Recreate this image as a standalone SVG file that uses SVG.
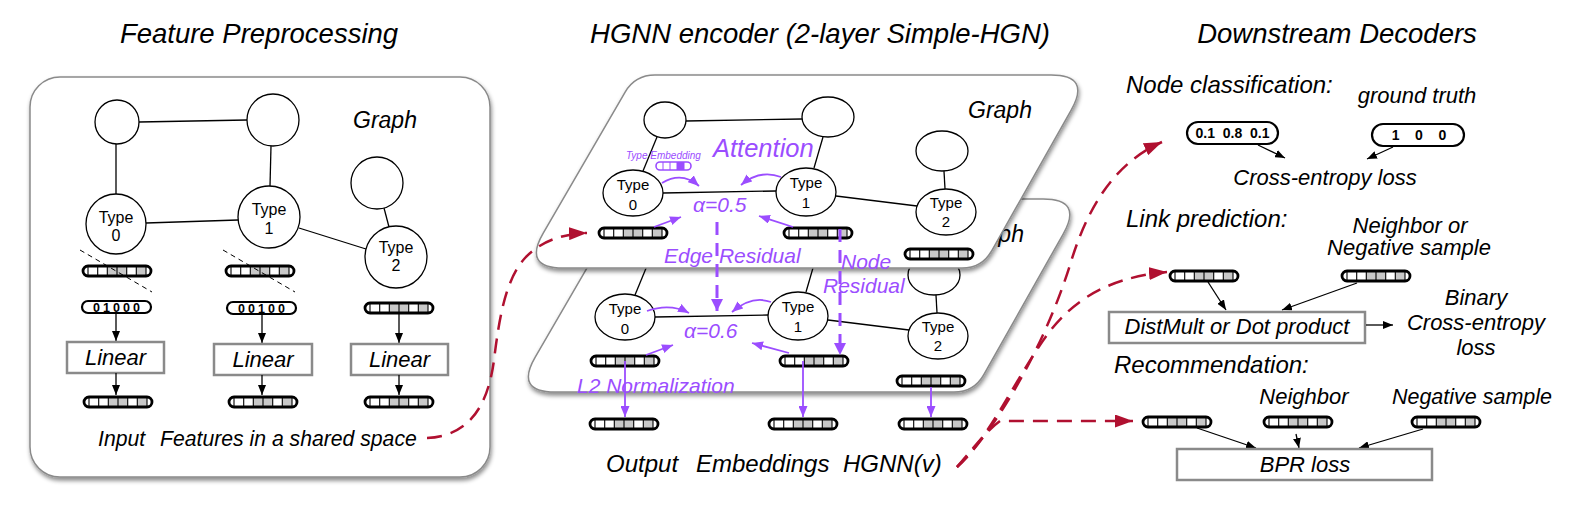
<svg xmlns="http://www.w3.org/2000/svg" xmlns:xlink="http://www.w3.org/1999/xlink" width="1592" height="516" viewBox="0 0 1592 516">
<style>
text{font-family:"Liberation Sans",Arial,sans-serif;}
.it{font-style:italic;fill:#000;}
.ttl{font-size:27.5px;font-style:italic;text-anchor:middle;}
.hd{font-size:24px;font-style:italic;}
.lb{font-size:22px;font-style:italic;}
.c{text-anchor:middle;}
.nt{font-size:16px;text-anchor:middle;}
.nt2{font-size:15px;text-anchor:middle;}
.pu{fill:#9b4dff;font-style:italic;font-size:21px;}
.node{fill:#fff;stroke:#000;stroke-width:1.3;}
.edge{stroke:#000;stroke-width:1.3;fill:none;}
.gbox{fill:#fff;stroke:#8a8a8a;stroke-width:2.5;}
.arr{stroke:#000;stroke-width:1.3;fill:none;marker-end:url(#aB);}
.parr{stroke:#9b4dff;stroke-width:1.8;fill:none;marker-end:url(#aP);}
.pdash{stroke:#9b4dff;stroke-width:3;fill:none;stroke-dasharray:13 8;marker-end:url(#aP2);}
.red{stroke:#b01030;stroke-width:2.5;fill:none;stroke-dasharray:15 9;}
.oh{fill:#fff;stroke:#000;stroke-width:2.2;}
.ohT{font-size:12.5px;font-weight:bold;text-anchor:middle;letter-spacing:3px;}
.pb{font-size:14px;font-weight:bold;text-anchor:middle;}
</style>
<defs>
<filter id="sh" x="-5%" y="-5%" width="112%" height="115%">
<feDropShadow dx="1" dy="3" stdDeviation="2" flood-color="#000" flood-opacity="0.45"/>
</filter>
<marker id="aB" markerUnits="userSpaceOnUse" viewBox="0 0 10 8" refX="10" refY="4" markerWidth="10" markerHeight="8" orient="auto"><path d="M0,0L10,4L0,8z" fill="#000"/></marker>
<marker id="aP" markerUnits="userSpaceOnUse" viewBox="0 0 11 9" refX="11" refY="4.5" markerWidth="11" markerHeight="9" orient="auto"><path d="M0,0L11,4.5L0,9z" fill="#9b4dff"/></marker>
<marker id="aP2" markerUnits="userSpaceOnUse" viewBox="0 0 12 12" refX="12" refY="6" markerWidth="12" markerHeight="12" orient="auto"><path d="M0,0L12,6L0,12z" fill="#9b4dff"/></marker>
<marker id="aR" markerUnits="userSpaceOnUse" viewBox="0 0 18 13" refX="18" refY="6.5" markerWidth="18" markerHeight="13" orient="auto"><path d="M0,0L18,6.5L0,13z" fill="#b01030"/></marker>
<g id="emb">
<rect x="1" y="1" width="68" height="10" rx="5" fill="#fff"/>
<rect x="25.3" y="1" width="19.4" height="10" fill="#c8c8c8"/>
<rect x="54.3" y="1" width="9.7" height="10" fill="#c8c8c8"/>
<path d="M6,1V11M15.7,1V11M25.3,1V11M35,1V11M44.7,1V11M54.3,1V11M64,1V11" stroke="#000" stroke-width="1.1"/>
<rect x="1" y="1" width="68" height="10" rx="5" fill="none" stroke="#000" stroke-width="2.8"/>
</g>
</defs>
<rect width="1592" height="516" fill="#fff"/>

<!-- Titles -->
<text class="ttl" x="259" y="43">Feature Preprocessing</text>
<text class="ttl" x="820" y="43">HGNN encoder (2-layer Simple-HGN)</text>
<text class="ttl" x="1337" y="43">Downstream Decoders</text>

<!-- ============ LEFT PANEL ============ -->
<g id="panel-preprocessing">
<rect x="30" y="77" width="460" height="400" rx="30" fill="#fff" stroke="#8a8a8a" stroke-width="1.5" filter="url(#sh)"/>
<text class="it" x="353" y="128" style="font-size:23px">Graph</text>
<g id="left-edges">
<line class="edge" x1="139" y1="122" x2="247" y2="120"/>
<line class="edge" x1="116" y1="144" x2="116" y2="194"/>
<line class="edge" x1="271" y1="146" x2="270" y2="186"/>
<line class="edge" x1="146" y1="223" x2="238" y2="220"/>
<line class="edge" x1="299" y1="228" x2="366" y2="249"/>
<line class="edge" x1="384" y1="208" x2="389" y2="227"/>
</g>
<g id="L-nA"><circle class="node" cx="117" cy="122" r="22"/></g>
<g id="L-nB"><circle class="node" cx="273" cy="120" r="26"/></g>
<g id="L-nC"><circle class="node" cx="377" cy="183" r="26"/></g>
<g id="L-type0"><circle class="node" cx="116" cy="224" r="30"/><text class="nt" x="116" y="223">Type</text><text class="nt" x="116" y="241">0</text></g>
<g id="L-type1"><circle class="node" cx="269" cy="217" r="31"/><text class="nt" x="269" y="215">Type</text><text class="nt" x="269" y="234">1</text></g>
<g id="L-type2"><circle class="node" cx="396" cy="257" r="31"/><text class="nt" x="396" y="253">Type</text><text class="nt" x="396" y="271">2</text></g>

<g id="L-col0">
<use href="#emb" x="82" y="265"/>
<line x1="80" y1="250" x2="152" y2="292" stroke="#000" stroke-width="1" stroke-dasharray="5 4"/>
<rect class="oh" x="82" y="301" width="69" height="12" rx="6"/>
<text class="ohT" x="118" y="311.7">01000</text>
<line class="arr" x1="116" y1="313" x2="116" y2="341"/>
<rect class="gbox" x="67" y="342" width="97" height="31"/>
<text class="lb c" x="115.5" y="365">Linear</text>
<line class="arr" x1="116" y1="373" x2="116" y2="395"/>
<use href="#emb" x="83" y="396"/>
</g>
<g id="L-col1">
<use href="#emb" x="225" y="265"/>
<line x1="223" y1="250" x2="295" y2="292" stroke="#000" stroke-width="1" stroke-dasharray="5 4"/>
<rect class="oh" x="227" y="302" width="69" height="12" rx="6"/>
<text class="ohT" x="263" y="312.7">00100</text>
<line class="arr" x1="262" y1="314" x2="262" y2="343"/>
<rect class="gbox" x="214" y="344" width="98" height="31"/>
<text class="lb c" x="263" y="367">Linear</text>
<line class="arr" x1="262" y1="375" x2="262" y2="395"/>
<use href="#emb" x="228" y="396"/>
</g>
<g id="L-col2">
<use href="#emb" x="364" y="302"/>
<line class="arr" x1="399" y1="314" x2="399" y2="343"/>
<rect class="gbox" x="351" y="344" width="97" height="31"/>
<text class="lb c" x="399.5" y="367">Linear</text>
<line class="arr" x1="399" y1="375" x2="399" y2="395"/>
<use href="#emb" x="364" y="396"/>
</g>
<text class="lb" style="font-size:21.2px" y="446"><tspan x="98">Input</tspan><tspan x="160">Features in a shared space</tspan></text>
</g>

<!-- ============ MIDDLE PANEL ============ -->
<!-- bottom layer (layer 2) -->
<g id="layer2">
<path d="M655,75 L1051,75 Q1091,75 1071.3,109.8 L991.8,250.6 Q982,268 962,268 L563,268 Q523,268 543.1,233.4 L625,92.3 Q635,75 655,75 Z" transform="translate(-8,124)" fill="#fff" stroke="#8a8a8a" stroke-width="1.5" filter="url(#sh)"/>
<g transform="translate(-8,124)">
<text class="it" x="968" y="118" style="font-size:23px">Graph</text>
<g id="l2-edges">
<line class="edge" x1="657" y1="137" x2="643" y2="171"/>
<line class="edge" x1="686" y1="121" x2="802" y2="119"/>
<line class="edge" x1="823" y1="137" x2="814" y2="168"/>
<line class="edge" x1="663" y1="193" x2="776" y2="191"/>
<line class="edge" x1="836" y1="196" x2="917" y2="206"/>
<line class="edge" x1="944" y1="171" x2="945" y2="189"/>
</g>
<g id="l2-nA"><ellipse class="node" cx="665" cy="120" rx="21" ry="18"/></g>
<g id="l2-nB"><ellipse class="node" cx="828" cy="117" rx="26" ry="20"/></g>
<g id="l2-nC"><ellipse class="node" cx="942" cy="151" rx="26" ry="20"/></g>
<g id="l2-type0"><ellipse class="node" cx="633" cy="193" rx="30" ry="23"/><text class="nt2" x="633" y="190">Type</text><text class="nt2" x="633" y="210">0</text></g>
<g id="l2-type1"><ellipse class="node" cx="806" cy="192" rx="30" ry="24"/><text class="nt2" x="806" y="188">Type</text><text class="nt2" x="806" y="208">1</text></g>
<g id="l2-type2"><ellipse class="node" cx="946" cy="212" rx="30" ry="23"/><text class="nt2" x="946" y="208">Type</text><text class="nt2" x="946" y="227">2</text></g>
</g>
<use href="#emb" x="590" y="355"/>
<use href="#emb" x="779" y="355"/>
<use href="#emb" x="896" y="375"/>
</g>

<!-- top layer (layer 1) -->
<g id="layer1">
<path d="M655,75 L1051,75 Q1091,75 1071.3,109.8 L991.8,250.6 Q982,268 962,268 L563,268 Q523,268 543.1,233.4 L625,92.3 Q635,75 655,75 Z" fill="#fff" stroke="#8a8a8a" stroke-width="1.5" filter="url(#sh)"/>
<text class="it" x="968" y="118" style="font-size:23px">Graph</text>
<g id="l1-edges">
<line class="edge" x1="657" y1="137" x2="643" y2="171"/>
<line class="edge" x1="686" y1="121" x2="802" y2="119"/>
<line class="edge" x1="823" y1="137" x2="814" y2="168"/>
<line class="edge" x1="663" y1="193" x2="776" y2="191"/>
<line class="edge" x1="836" y1="196" x2="917" y2="206"/>
<line class="edge" x1="944" y1="171" x2="945" y2="189"/>
</g>
<g id="l1-nA"><ellipse class="node" cx="665" cy="120" rx="21" ry="18"/></g>
<g id="l1-nB"><ellipse class="node" cx="828" cy="117" rx="26" ry="20"/></g>
<g id="l1-nC"><ellipse class="node" cx="942" cy="151" rx="26" ry="20"/></g>
<g id="l1-type0"><ellipse class="node" cx="633" cy="193" rx="30" ry="23"/><text class="nt2" x="633" y="190">Type</text><text class="nt2" x="633" y="210">0</text></g>
<g id="l1-type1"><ellipse class="node" cx="806" cy="192" rx="30" ry="24"/><text class="nt2" x="806" y="188">Type</text><text class="nt2" x="806" y="208">1</text></g>
<g id="l1-type2"><ellipse class="node" cx="946" cy="212" rx="30" ry="23"/><text class="nt2" x="946" y="208">Type</text><text class="nt2" x="946" y="227">2</text></g>
<use href="#emb" x="598" y="227"/>
<use href="#emb" x="783" y="227"/>
<use href="#emb" x="904" y="248"/>
<!-- type embedding -->
<text x="626" y="159" style="font-size:10px;font-style:italic;fill:#9b4dff">Type Embedding</text>
<g id="type-emb">
<rect x="656" y="162" width="35" height="8" rx="4" fill="#fff"/>
<rect x="677" y="162" width="7" height="8" fill="#9b4dff"/>
<path d="M663,162V170M670,162V170M677,162V170M684,162V170" stroke="#9b4dff" stroke-width="1"/>
<rect x="656" y="162" width="35" height="8" rx="4" fill="none" stroke="#9b4dff" stroke-width="1.6"/>
</g>
<text class="pu" x="713" y="157" style="font-size:25.5px">Attention</text>
<text class="pu" x="693" y="212">α=0.5</text>
</g>

<!-- purple connectors -->
<g id="attention-connectors">
<path class="parr" d="M662,183 Q682,171 699,186"/>
<path class="parr" d="M781,177 Q760,169 741,185"/>
<path class="parr" d="M654,227 L681,217"/>
<path class="parr" d="M793,227 L759,216"/>
<path class="parr" d="M647,311 Q670,303 689,313"/>
<path class="parr" d="M771,302 Q752,295 732,312"/>
<path class="parr" d="M646,355 L673,345"/>
<path class="parr" d="M789,353 L752,343"/>
<path class="pdash" d="M717,222 L717,311"/>
<path class="pdash" d="M840,229 L840,355"/>
<path class="parr" d="M625,361 L625,417"/>
<path class="parr" d="M803,361 L803,417"/>
<path class="parr" d="M931,387 L931,417"/>
</g>
<text class="pu" x="664" y="263">Edge Residual</text>
<text class="pu" x="841" y="269">Node</text>
<text class="pu" x="823" y="293">Residual</text>
<text class="pu" x="684" y="338">α=0.6</text>
<text class="pu" x="577" y="393">L2 Normalization</text>
<use href="#emb" x="589" y="418"/>
<use href="#emb" x="768" y="418"/>
<use href="#emb" x="898" y="418"/>
<text class="it" style="font-size:24px" y="472"><tspan x="606">Output</tspan><tspan x="696">Embeddings</tspan><tspan x="843">HGNN(v)</tspan></text>

<!-- ============ RIGHT PANEL ============ -->
<g id="node-classification">
<text class="hd" x="1126" y="93">Node classification:</text>
<text class="lb c" x="1417" y="103">ground truth</text>
<rect class="oh" x="1187" y="122" width="91" height="22" rx="11" stroke-width="2"/>
<text class="pb" x="1232.5" y="138" xml:space="preserve">0.1  0.8  0.1</text>
<rect class="oh" x="1372" y="124" width="92" height="22" rx="11" stroke-width="2"/>
<text class="pb" x="1419" y="140" xml:space="preserve">1    0    0</text>
<line class="arr" x1="1258" y1="145" x2="1285" y2="158"/>
<line class="arr" x1="1393" y1="147" x2="1367" y2="159"/>
<text class="lb c" x="1325" y="185">Cross-entropy loss</text>
</g>
<g id="link-prediction">
<text class="hd" x="1126" y="227">Link prediction:</text>
<text class="lb c" x="1410" y="233">Neighbor or</text>
<text class="lb c" x="1409" y="255">Negative sample</text>
<use href="#emb" x="1169" y="270"/>
<use href="#emb" x="1341" y="270"/>
<line class="arr" x1="1208" y1="282" x2="1226" y2="310"/>
<line class="arr" x1="1357" y1="283" x2="1282" y2="310"/>
<rect class="gbox" x="1109" y="312" width="256" height="31"/>
<text class="lb c" x="1237" y="334">DistMult or Dot product</text>
<line class="arr" x1="1366" y1="325" x2="1393" y2="325"/>
<text class="lb c" x="1476" y="305">Binary</text>
<text class="lb c" x="1476" y="330">Cross-entropy</text>
<text class="lb c" x="1476" y="355">loss</text>
</g>
<g id="recommendation">
<text class="hd" x="1114" y="373">Recommendation:</text>
<text class="lb c" x="1304" y="404">Neighbor</text>
<text class="lb c" x="1472" y="404" style="font-size:21.5px">Negative sample</text>
<use href="#emb" x="1142" y="416"/>
<use href="#emb" x="1263" y="416"/>
<use href="#emb" x="1411" y="416"/>
<line class="arr" x1="1197" y1="428" x2="1256" y2="448"/>
<line class="arr" x1="1296" y1="434" x2="1299" y2="448"/>
<line class="arr" x1="1423" y1="429" x2="1359" y2="448"/>
<rect class="gbox" x="1177" y="449" width="255" height="31"/>
<text class="lb c" x="1305" y="472">BPR loss</text>
</g>

<!-- red dashed connectors -->
<g id="red-connectors">
<path class="red" marker-end="url(#aR)" d="M427,438 C470,436 488,405 494,360 C499,320 505,280 525,258 C540,242 560,234 587,233"/>
<path class="red" marker-end="url(#aR)" d="M957,467 C987,440 1040,360 1070,265 C1085,215 1110,165 1162,142"/>
<path class="red" marker-end="url(#aR)" d="M957,467 C987,440 1010,390 1040,345 C1065,307 1100,278 1167,272"/>
<path class="red" marker-end="url(#aR)" d="M957,467 C972,450 985,432 1000,421 L1133,421"/>
</g>
</svg>
